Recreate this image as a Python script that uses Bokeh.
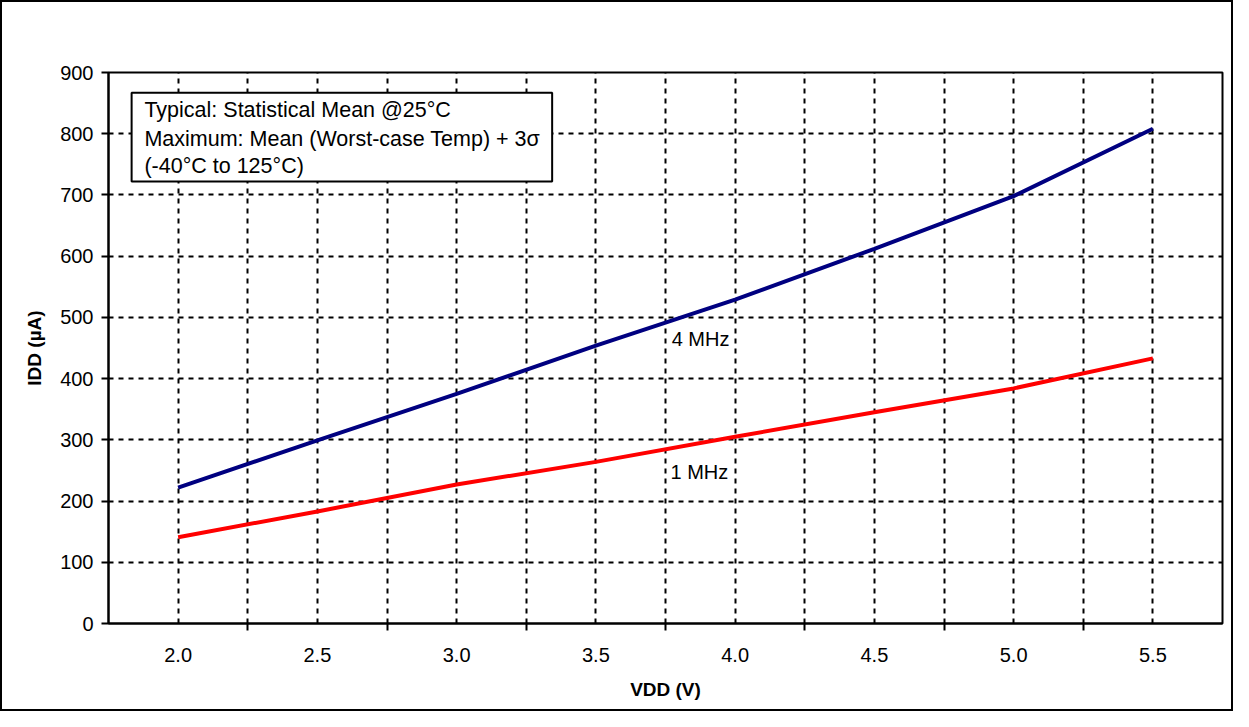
from bokeh.plotting import figure
from bokeh.models import FixedTicker, BoxAnnotation, Label, Range1d, NumeralTickFormatter
from bokeh.embed import file_html
from bokeh.resources import INLINE

# ---- data ----
vdd = [2.0, 2.5, 3.0, 3.5, 4.0, 4.5, 5.0, 5.5]
idd_4mhz = [222, 299, 375, 454, 529, 612, 698, 808]
idd_1mhz = [141, 183, 227, 264, 305, 345, 384, 433]
y_ticks = [0, 100, 200, 300, 400, 500, 600, 700, 800, 900]
series_names = ["4 MHz", "1 MHz"]
note_lines = [
    "Typical: Statistical Mean @25°C",
    "Maximum: Mean (Worst-case Temp) + 3σ",
    "(-40°C to 125°C)",
]

half = (vdd[1] - vdd[0]) / 2
cat_bounds = [(a + b) / 2 for a, b in zip(vdd[:-1], vdd[1:])]

FONT = "Liberation Sans"

p = figure(
    width=1233, height=711,
    x_range=Range1d(vdd[0] - half, vdd[-1] + half),
    y_range=Range1d(y_ticks[0], y_ticks[-1]),
    output_backend="svg", toolbar_location=None,
    min_border_left=106, min_border_right=13, min_border_top=70, min_border_bottom=90,
    background_fill_color="white", border_fill_color="white",
)
p.styles = {"border": "2px solid black"}

p.outline_line_color = "black"
p.outline_line_width = 2

# x axis
p.xaxis.ticker = FixedTicker(ticks=vdd, minor_ticks=cat_bounds)
p.xaxis.formatter = NumeralTickFormatter(format="0.0")
p.xaxis.major_tick_out = 0
p.xaxis.major_tick_in = 0
p.xaxis.minor_tick_out = 7
p.xaxis.minor_tick_in = 0
p.xaxis.minor_tick_line_color = "black"
p.xaxis.minor_tick_line_width = 2
p.xaxis.major_label_standoff = 17
p.xaxis.axis_label = "VDD (V)"
p.xaxis.axis_label_standoff = 14

# y axis
p.yaxis.ticker = FixedTicker(ticks=y_ticks)
p.yaxis.major_tick_out = 7
p.yaxis.major_tick_in = 0
p.yaxis.minor_tick_out = 0
p.yaxis.minor_tick_in = 0
p.yaxis.major_label_standoff = 8
p.yaxis.axis_label = "IDD (µA)"
p.yaxis.axis_label_standoff = 12

for ax in (p.xaxis, p.yaxis):
    ax.axis_line_color = "black"
    ax.axis_line_width = 2
    ax.major_tick_line_color = "black"
    ax.major_tick_line_width = 2
    ax.major_label_text_font = FONT
    ax.major_label_text_font_size = "20px"
    ax.major_label_text_color = "black"
    ax.axis_label_text_font = FONT
    ax.axis_label_text_font_size = "19px"
    ax.axis_label_text_font_style = "bold"
    ax.axis_label_text_color = "black"

# grids
p.xgrid.grid_line_color = "black"
p.xgrid.grid_line_dash = "5 5"
p.xgrid.grid_line_width = 2
p.xgrid.minor_grid_line_color = "black"
p.xgrid.minor_grid_line_dash = "5 5"
p.xgrid.minor_grid_line_width = 2
p.ygrid.grid_line_color = "black"
p.ygrid.grid_line_dash = "5 5"
p.ygrid.grid_line_width = 2

# series
p.line(vdd, idd_4mhz, line_color="#000080", line_width=4)
p.line(vdd, idd_1mhz, line_color="#ff0000", line_width=4)

# series labels
p.add_layout(Label(x=3.772, y=465, text=series_names[0], text_font=FONT,
                   text_font_size="20px", text_baseline="middle", text_color="black"))
p.add_layout(Label(x=3.768, y=247, text=series_names[1], text_font=FONT,
                   text_font_size="20px", text_baseline="middle", text_color="black"))

# note box
p.add_layout(BoxAnnotation(left=1.833, right=3.343, bottom=722, top=867,
                           fill_color="white", fill_alpha=1.0,
                           line_color="black", line_alpha=1.0, line_width=2))
for txt, yy in zip(note_lines, [838, 792, 748]):
    p.add_layout(Label(x=1.879, y=yy, text=txt, text_font=FONT,
                       text_font_size="21.5px", text_baseline="middle", text_color="black"))

open("out.html", "w").write(file_html(p, INLINE))
